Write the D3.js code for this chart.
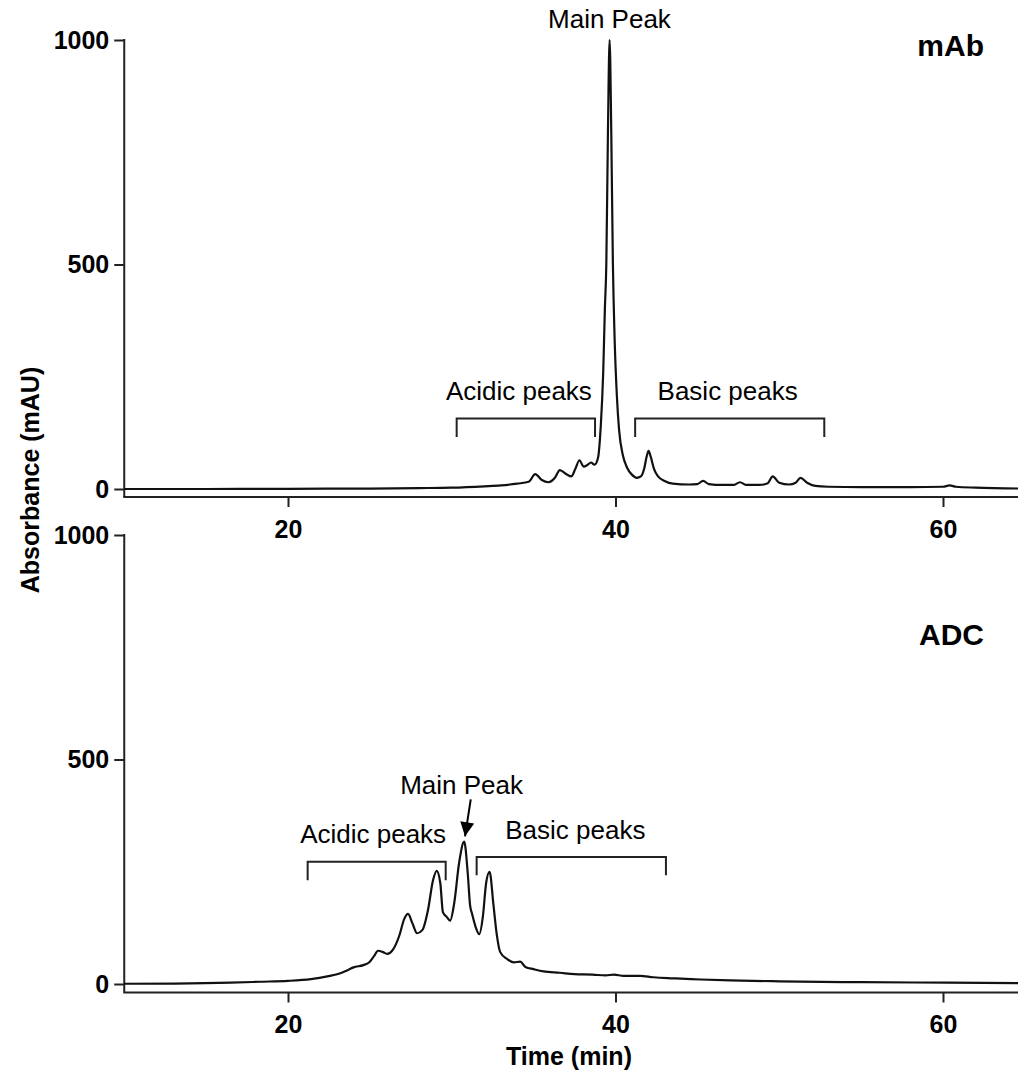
<!DOCTYPE html>
<html>
<head>
<meta charset="utf-8">
<script src="https://cdn.jsdelivr.net/npm/d3@7"></script>
<style>
  html, body { margin: 0; padding: 0; background: #fff; }
  svg { display: block; }
  text { font-family: Arial, "Liberation Sans", Helvetica, sans-serif; fill: #000; }
</style>
</head>
<body>
<svg id="chart" width="1018" height="1073"></svg>
<script>
// ---------- Data ----------
const mabTime = [10, 15, 20, 25, 28, 30, 32, 33, 34, 34.7, 35.1, 35.5, 35.9, 36.3, 36.6, 37.0, 37.3, 37.55, 37.8, 38.05, 38.3, 38.5, 38.72, 38.93, 39.1, 39.25, 39.35, 39.44, 39.54, 39.64, 39.74, 39.84, 39.95, 40.08, 40.22, 40.45, 40.7, 41.0, 41.3, 41.55, 41.75, 41.9, 42.02, 42.15, 42.35, 42.6, 43.0, 43.5, 44.5, 45.0, 45.35, 45.7, 46.5, 47.2, 47.6, 48.0, 48.8, 49.3, 49.6, 50.0, 50.6, 51.0, 51.3, 51.7, 52.2, 53, 55, 58, 60, 60.4, 60.8, 62, 65];
const mabValue = [0, 0, 0.5, 1, 2, 3, 6, 8, 12, 16, 33, 20, 15, 25, 42, 33, 28, 45, 64, 50, 54, 59, 54, 69, 140, 260, 400, 503, 800, 1000, 800, 503, 330, 210, 131, 75, 48, 32, 25, 28, 45, 72, 85, 72, 45, 28, 18, 12, 10, 11, 18, 11, 9, 9, 15, 9, 9, 13, 28, 14, 10, 14, 25, 14, 7, 5, 4, 4, 5, 8, 5, 3, 1];

const adcTime = [10, 13, 16.5, 18.3, 20, 21.4, 22.4, 23.2, 23.7, 24.0, 24.6, 24.95, 25.25, 25.5, 25.8, 26.05, 26.4, 26.8, 27.1, 27.33, 27.6, 27.88, 28.2, 28.55, 28.85, 29.08, 29.3, 29.46, 29.68, 29.9, 30.15, 30.45, 30.76, 30.98, 31.12, 31.25, 31.45, 31.68, 31.9, 32.1, 32.31, 32.55, 32.75, 32.96, 33.37, 33.8, 34.18, 34.5, 35.0, 35.6, 36.6, 37.5, 38.6, 39.4, 39.9, 40.5, 41.5, 42.3, 43.2, 44, 45.2, 47, 50, 55, 60.3, 65];
const adcValue = [0.5, 1, 3, 5, 7, 11, 17, 24, 32, 37, 42, 48, 62, 74, 71, 67, 76, 108, 145, 156, 135, 113, 120, 165, 230, 252, 225, 160, 150, 141, 180, 270, 317, 245, 175, 155, 128, 111, 150, 225, 250, 175, 110, 71, 56, 48, 50, 38, 33, 28, 25, 22, 21, 19, 21, 18, 18, 15, 13, 12, 10, 8, 6, 4, 3, 2];

const xTicks = [20, 40, 60];
const yTicks = [0, 500, 1000];
const panelNames = ["mAb", "ADC"];
const yTitle = "Absorbance (mAU)";
const xTitle = "Time (min)";

// annotation anchors in data units [time, absorbance]
const mabAnnot = {
  main: { label: "Main Peak", t: 39.63, v: 1026 },
  acidic: { label: "Acidic peaks", t0: 30.3, t1: 38.75, top: 157, bottom: 116, textT: 34.1, textV: 198 },
  basic:  { label: "Basic peaks",  t0: 41.2, t1: 52.75, top: 157, bottom: 116, textT: 46.85, textV: 198 }
};
const adcAnnot = {
  main: { label: "Main Peak", t: 30.6, v: 423, arrowFrom: [31.16, 411], arrowTo: [30.81, 329] },
  acidic: { label: "Acidic peaks", t0: 21.2, t1: 29.63, top: 272, bottom: 231, textT: 25.2, textV: 313 },
  basic:  { label: "Basic peaks",  t0: 31.52, t1: 43.08, top: 283, bottom: 242, textT: 37.55, textV: 322 }
};

// ---------- Layout ----------
const svg = d3.select("#chart");
const xLeft = 124.25, pxPerMin = 16.375;
const x = d3.scaleLinear().domain([10, 65]).range([xLeft, xLeft + 55 * pxPerMin]);
const panels = [
  { name: panelNames[0], time: mabTime, value: mabValue, y0: 489, y1000: 40, axisY: 497, annot: mabAnnot, labelY: 56 },
  { name: panelNames[1], time: adcTime, value: adcValue, y0: 984, y1000: 535, axisY: 992.5, annot: adcAnnot, labelY: 645 }
];

const defs = svg.append("defs");
defs.append("marker").attr("id", "arrow").attr("viewBox", "0 0 10 10")
  .attr("refX", 10).attr("refY", 5).attr("markerWidth", 15).attr("markerHeight", 14)
  .attr("markerUnits", "userSpaceOnUse").attr("orient", "auto")
  .append("path").attr("d", "M0,0 L10,5 L0,10 Z").attr("fill", "#000");

const font = "Arial, 'Liberation Sans', sans-serif";

panels.forEach(p => {
  const y = d3.scaleLinear().domain([0, 1000]).range([p.y0, p.y1000]);
  const g = svg.append("g");

  // y axis
  const ya = g.append("g").attr("transform", `translate(${xLeft},0)`)
    .call(d3.axisLeft(y).tickValues(yTicks).tickFormat(d3.format("d")).tickSize(10).tickPadding(5).tickSizeOuter(0));
  ya.select(".domain").remove();
  ya.selectAll(".tick line").attr("stroke", "#222").attr("stroke-width", 2);
  ya.selectAll(".tick text").attr("font-size", 25).attr("font-weight", "bold")
    .attr("font-family", font).attr("fill", "#000");
  g.append("line").attr("x1", xLeft).attr("x2", xLeft).attr("y1", y(1000) - 1).attr("y2", p.axisY)
    .attr("stroke", "#222").attr("stroke-width", 2);

  // x axis
  const xa = g.append("g").attr("transform", `translate(0,${p.axisY})`)
    .call(d3.axisBottom(x).tickValues(xTicks).tickFormat(d3.format("d")).tickSize(10).tickPadding(13).tickSizeOuter(0));
  xa.select(".domain").remove();
  xa.selectAll(".tick line").attr("stroke", "#222").attr("stroke-width", 2);
  xa.selectAll(".tick text").attr("font-size", 25).attr("font-weight", "bold")
    .attr("font-family", font).attr("fill", "#000");
  g.append("line").attr("x1", xLeft - 1).attr("x2", 1018).attr("y1", p.axisY).attr("y2", p.axisY)
    .attr("stroke", "#222").attr("stroke-width", 2);

  // trace
  const pts = p.time.map((t, i) => [t, p.value[i]]);
  g.append("path").datum(pts)
    .attr("fill", "none").attr("stroke", "#111").attr("stroke-width", 2.2).attr("stroke-linejoin", "round")
    .attr("d", d3.line().x(d => x(d[0])).y(d => y(d[1])).curve(d3.curveMonotoneX));

  // panel name
  g.append("text").attr("x", 984).attr("y", p.labelY).attr("text-anchor", "end")
    .attr("font-size", 30).attr("font-weight", "bold").text(p.name);

  // annotations
  const a = p.annot;
  g.append("text").attr("x", x(a.main.t)).attr("y", y(a.main.v)).attr("text-anchor", "middle")
    .attr("font-size", 26).text(a.main.label);
  if (a.main.arrowFrom) {
    g.append("line")
      .attr("x1", x(a.main.arrowFrom[0])).attr("y1", y(a.main.arrowFrom[1]))
      .attr("x2", x(a.main.arrowTo[0])).attr("y2", y(a.main.arrowTo[1]))
      .attr("stroke", "#000").attr("stroke-width", 2).attr("marker-end", "url(#arrow)");
  }
  [a.acidic, a.basic].forEach(b => {
    g.append("text").attr("x", x(b.textT)).attr("y", y(b.textV)).attr("text-anchor", "middle")
      .attr("font-size", 26).text(b.label);
    g.append("path")
      .attr("d", `M${x(b.t0)},${y(b.bottom)} L${x(b.t0)},${y(b.top)} L${x(b.t1)},${y(b.top)} L${x(b.t1)},${y(b.bottom)}`)
      .attr("fill", "none").attr("stroke", "#222").attr("stroke-width", 2);
  });
});

// axis titles
svg.append("text").attr("transform", "translate(39,480) rotate(-90)").attr("text-anchor", "middle")
  .attr("font-size", 25).attr("font-weight", "bold").text(yTitle);
svg.append("text").attr("x", 569).attr("y", 1065).attr("text-anchor", "middle")
  .attr("font-size", 25).attr("font-weight", "bold").text(xTitle);
</script>
</body>
</html>
